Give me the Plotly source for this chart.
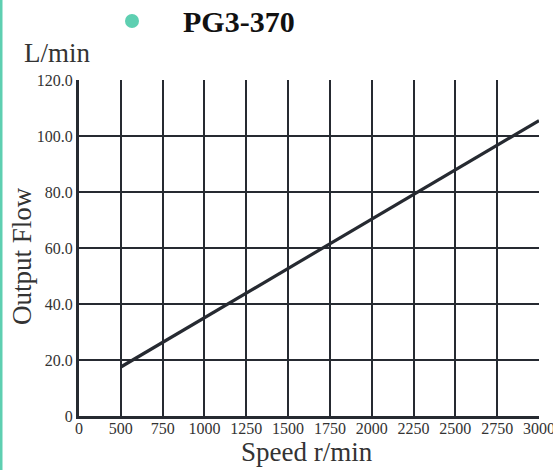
import plotly.graph_objects as go

speed_labels = ["0", "500", "750", "1000", "1250", "1500", "1750", "2000", "2250", "2500", "2750", "3000"]
line_speeds = ["500", "750", "1000", "1250", "1500", "1750", "2000", "2250", "2500", "2750", "3000"]
flow_values = [17.5, 26.3, 35.1, 43.9, 52.7, 61.5, 70.3, 79.1, 87.9, 96.7, 105.5]
y_tickvals = [0, 20, 40, 60, 80, 100, 120]
y_ticktext = ["0", "20.0", "40.0", "60.0", "80.0", "100.0", "120.0"]
series_name = "PG3-370"
x_title = "Speed r/min"
y_title = "Output Flow"
y_unit = "L/min"

W, H = 553, 470
L, R, T, B = 79, 14, 80, 54
pw, ph = W - L - R, H - T - B

def px_x(p):
    return (p - L) / pw

def px_y(p):
    return (H - B - p) / ph

dark = "#262a31"
teal = "#5ecfb1"
font_family = "Liberation Serif, Times New Roman, serif"
txt = "#333333"

fig = go.Figure()
fig.add_trace(go.Scatter(
    x=line_speeds, y=flow_values, mode="lines",
    line=dict(color=dark, width=3.2), name=series_name, showlegend=False,
))

fig.update_layout(
    width=W, height=H,
    margin=dict(l=L, r=R, t=T, b=B, autoexpand=False),
    paper_bgcolor="white", plot_bgcolor="white",
    font=dict(family=font_family, color=txt),
    xaxis=dict(
        type="category", categoryorder="array", categoryarray=speed_labels,
        range=[0, len(speed_labels) - 1],
        showgrid=True, gridcolor=dark, gridwidth=2.2,
        showline=True, linecolor=dark, linewidth=3,
        tickfont=dict(size=16, family=font_family, color=txt),
        ticks="", ticklen=0, zeroline=False, automargin=False,
        ticklabelstandoff=-4,
    ),
    yaxis=dict(
        range=[0, 120], tickvals=y_tickvals, ticktext=y_ticktext,
        showgrid=True, gridcolor=dark, gridwidth=2.2,
        showline=True, linecolor=dark, linewidth=3,
        tickfont=dict(size=16, family=font_family, color=txt),
        ticks="", zeroline=False, automargin=False,
    ),
)

# teal left border
fig.add_shape(type="line", xref="paper", yref="paper",
              x0=px_x(1.2), x1=px_x(1.2), y0=px_y(0), y1=px_y(H),
              line=dict(color=teal, width=2.6))
# legend dot
r = 7
fig.add_shape(type="circle", xref="paper", yref="paper",
              x0=px_x(132 - r), x1=px_x(132 + r), y0=px_y(21 + r), y1=px_y(21 - r),
              fillcolor=teal, line=dict(width=0))
fig.add_annotation(xref="paper", yref="paper", x=px_x(181), y=px_y(22),
                   xanchor="left", yanchor="middle", showarrow=False,
                   text="<b>" + series_name + "</b>",
                   font=dict(size=30, family=font_family, color="#111111"))
fig.add_annotation(xref="paper", yref="paper", x=px_x(22), y=px_y(53),
                   xanchor="left", yanchor="middle", showarrow=False,
                   text=y_unit,
                   font=dict(size=27, family=font_family, color=txt))
fig.add_annotation(xref="paper", yref="paper", x=px_x(307), y=px_y(452),
                   xanchor="center", yanchor="middle", showarrow=False,
                   text=x_title,
                   font=dict(size=27, family=font_family, color=txt))
fig.add_annotation(xref="paper", yref="paper", x=px_x(22), y=px_y(256),
                   xanchor="center", yanchor="middle", showarrow=False,
                   text=y_title, textangle=-90,
                   font=dict(size=27, family=font_family, color=txt))

fig.write_html("out.html", config={"displayModeBar": False},
               post_script="document.body.style.margin='0';document.body.style.overflow='hidden';")
